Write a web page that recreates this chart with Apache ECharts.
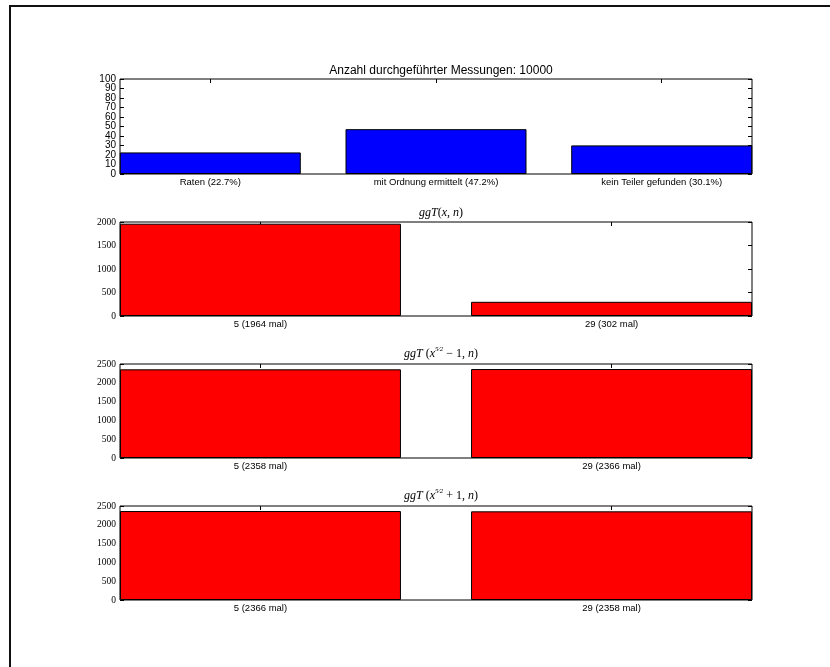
<!DOCTYPE html>
<html>
<head>
<meta charset="utf-8">
<script src="https://cdn.jsdelivr.net/npm/echarts@6/dist/echarts.min.js"></script>
<style>
html, body { margin: 0; padding: 0; background: #fff; }
#frame { position: absolute; left: 9px; top: 5px; width: 840px; height: 680px;
         border-left: 2px solid #111; border-top: 2px solid #111; }
#chart { position: absolute; left: 0; top: 0; width: 830px; height: 667px; }
</style>
</head>
<body>
<div id="frame"></div>
<div id="chart"></div>
<script>
// data
var totalRuns = 10000;
var outcomeNames = ["Raten", "mit Ordnung ermittelt", "kein Teiler gefunden"];
var outcomePercent = [22.7, 47.2, 30.1];

var divisors = [5, 29];
var countGgtX = [1964, 302];
var countGgtMinus = [2358, 2366];
var countGgtPlus = [2366, 2358];

var percentTicks = { max: 100, step: 10 };
var countTicksX = { max: 2000, step: 500 };
var countTicksPow = { max: 2500, step: 500 };

var sansFont = "Liberation Sans";
var serifFont = "Liberation Serif";

var chart = echarts.init(document.getElementById("chart"), null, { renderer: "canvas" });

var grids = [];
var xAxes = [];
var yAxes = [];
var series = [];
var titles = [];

var plotLeft = 120, plotWidth = 632;

function addPanel(top, height, values, labels, barWidth, color, ticks, yFont) {
    var i = grids.length;
    var n = values.length;
    var positions = values.map(function (v, k) { return k; });

    grids.push({
        left: plotLeft, width: plotWidth, top: top, height: height,
        show: true, borderColor: "#000", borderWidth: 1, backgroundColor: "transparent"
    });

    var xBase = {
        type: "value", gridIndex: i, min: -0.4, max: n - 1 + 0.4,
        axisLine: { show: false, onZero: false }, splitLine: { show: false }
    };
    xAxes.push(Object.assign({}, xBase, {
        position: "bottom",
        axisTick: { inside: true, length: 4, lineStyle: { color: "#000" }, customValues: positions },
        axisLabel: {
            customValues: positions, margin: 3, color: "#000",
            fontFamily: sansFont, fontSize: 9.5,
            formatter: function (v) { return labels[Math.round(v)]; }
        }
    }));
    xAxes.push(Object.assign({}, xBase, {
        position: "top",
        axisTick: { inside: true, length: 4, lineStyle: { color: "#000" }, customValues: positions },
        axisLabel: { show: false }
    }));

    // tick values, split in two sets so dense labels are not dropped
    var evenVals = [], oddVals = [];
    for (var t = 0, k = 0; t <= ticks.max; t += ticks.step, k++) {
        (k % 2 === 0 ? evenVals : oddVals).push(t);
    }

    var yBase = {
        type: "value", gridIndex: i, min: 0, max: ticks.max, interval: ticks.step,
        axisLine: { show: false, onZero: false }, splitLine: { show: false },
        axisTick: { show: true, inside: true, length: 4, lineStyle: { color: "#000" } }
    };
    var labelStyle = {
        margin: 4, color: "#000", fontFamily: yFont,
        fontSize: yFont === sansFont ? 10 : 9.5,
        hideOverlap: false,
        formatter: function (v) { return String(v); }
    };
    yAxes.push(Object.assign({}, yBase, {
        position: "left",
        axisLabel: Object.assign({ customValues: evenVals }, labelStyle)
    }));
    yAxes.push(Object.assign({}, yBase, {
        position: "right",
        axisLabel: { show: false }
    }));
    yAxes.push(Object.assign({}, yBase, {
        position: "left", offset: 0,
        axisTick: { show: false },
        axisLabel: Object.assign({ customValues: oddVals }, labelStyle)
    }));

    series.push({
        type: "bar", xAxisIndex: 2 * i, yAxisIndex: 3 * i,
        barWidth: barWidth,
        data: values.map(function (v, k) { return [k, v]; }),
        itemStyle: { color: color, borderColor: "#000", borderWidth: 1 },
        silent: true, animation: false
    });
}

var outcomeLabels = outcomeNames.map(function (name, k) {
    return name + " (" + outcomePercent[k].toFixed(1) + "%)";
});
function countLabels(counts) {
    return divisors.map(function (d, k) { return d + " (" + counts[k] + " mal)"; });
}

addPanel(79, 95, outcomePercent, outcomeLabels, 181, "#0000ff", percentTicks, sansFont);
addPanel(222, 94, countGgtX, countLabels(countGgtX), 281, "#ff0000", countTicksX, serifFont);
addPanel(364, 94, countGgtMinus, countLabels(countGgtMinus), 281, "#ff0000", countTicksPow, serifFont);
addPanel(506, 94, countGgtPlus, countLabels(countGgtPlus), 281, "#ff0000", countTicksPow, serifFont);

var mathRich = {
    i: { fontFamily: serifFont, fontStyle: "italic", fontWeight: "normal", fontSize: 12, color: "#000", lineHeight: 16 },
    r: { fontFamily: serifFont, fontWeight: "normal", fontSize: 12, color: "#000", lineHeight: 16 },
    sup: { fontFamily: serifFont, fontStyle: "italic", fontWeight: "normal", fontSize: 7, color: "#000", lineHeight: 16, verticalAlign: "top" }
};
var centerX = plotLeft + plotWidth / 2;

titles.push({
    text: "Anzahl durchgeführter Messungen: " + totalRuns,
    left: centerX, top: 60, textAlign: "center",
    textStyle: { fontFamily: sansFont, fontSize: 12, fontWeight: "normal", color: "#000" }
});
titles.push({
    text: "{i|ggT}{r|(}{i|x}{r|, }{i|n}{r|)}",
    left: centerX, top: 200, textAlign: "center",
    textStyle: { fontWeight: "normal", rich: mathRich }
});
titles.push({
    text: "{i|ggT}{r| (}{i|x}{sup|5⁄2}{r| − 1, }{i|n}{r|)}",
    left: centerX, top: 341, textAlign: "center",
    textStyle: { fontWeight: "normal", rich: mathRich }
});
titles.push({
    text: "{i|ggT}{r| (}{i|x}{sup|5⁄2}{r| + 1, }{i|n}{r|)}",
    left: centerX, top: 483, textAlign: "center",
    textStyle: { fontWeight: "normal", rich: mathRich }
});

chart.setOption({
    animation: false,
    backgroundColor: "transparent",
    title: titles,
    grid: grids,
    xAxis: xAxes,
    yAxis: yAxes,
    series: series
});
</script>
</body>
</html>
